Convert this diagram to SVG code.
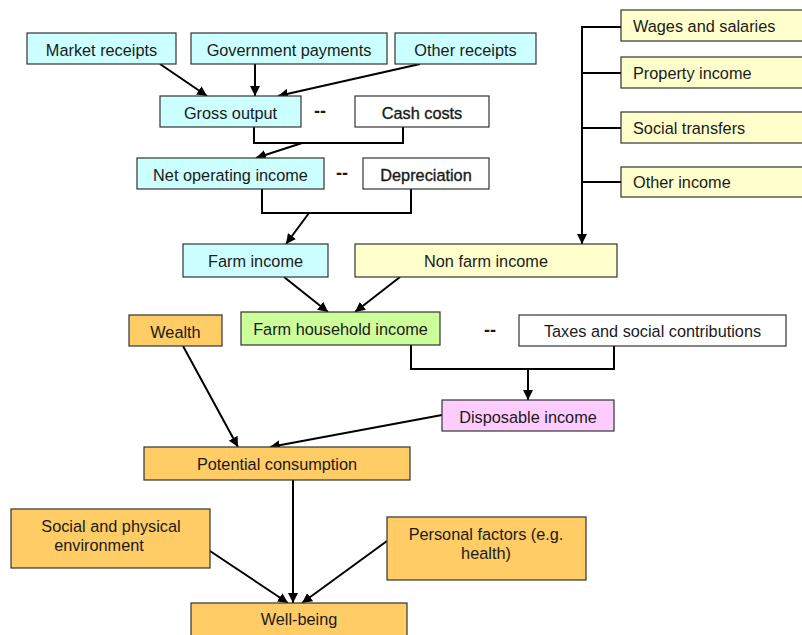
<svg xmlns="http://www.w3.org/2000/svg" width="802" height="635" viewBox="0 0 802 635">
<defs>
<marker id="ah" viewBox="0 0 10 10" refX="10" refY="5" markerWidth="5" markerHeight="5" orient="auto" markerUnits="strokeWidth">
<path d="M0,0 L10,5 L0,10 z" fill="#000"/>
</marker>
</defs>
<style>
rect{stroke:#333;stroke-width:1.2}
.cy{fill:#CCFFFF}.ye{fill:#FFFFCC}.gr{fill:#CCFF99}.or{fill:#FFCC66}.pk{fill:#FFCCFF}.wh{fill:#FFFFFF}
text{font-family:"Liberation Sans",Arial,sans-serif;font-size:16.3px;fill:#1a1a1a;text-anchor:middle}
.l{text-anchor:start}
.b{stroke:#1a1a1a;stroke-width:0.35}
.dash{font-weight:bold;font-size:18px}
.c line,.c polyline{stroke:#000;stroke-width:2;fill:none}
.c .a{marker-end:url(#ah)}
</style>
<g class="c" id="connectors">
<line class="a" x1="160" y1="64" x2="207" y2="96"/>
<line class="a" x1="255" y1="64" x2="255" y2="96"/>
<line class="a" x1="420" y1="64" x2="278" y2="96"/>
<polyline points="254,127 254,143 403,143 403,127"/>
<line class="a" x1="302" y1="143" x2="256" y2="158"/>
<polyline points="262,189 262,213 411,213 411,189"/>
<line class="a" x1="309" y1="213" x2="286" y2="244"/>
<line class="a" x1="284" y1="277" x2="328" y2="312"/>
<line class="a" x1="400" y1="277" x2="355" y2="312"/>
<line x1="582" y1="27" x2="621" y2="27"/>
<line x1="582" y1="73" x2="621" y2="73"/>
<line x1="582" y1="128" x2="621" y2="128"/>
<line x1="582" y1="182" x2="621" y2="182"/>
<line class="a" x1="582" y1="26" x2="582" y2="244"/>
<polyline points="411,345 411,369 614,369 614,346"/>
<line class="a" x1="528" y1="369" x2="528" y2="400"/>
<line class="a" x1="183" y1="346" x2="238" y2="447"/>
<line class="a" x1="442" y1="415" x2="270" y2="447"/>
<line class="a" x1="293" y1="480" x2="293" y2="603"/>
<line class="a" x1="207" y1="549" x2="288" y2="603"/>
<line class="a" x1="387" y1="541" x2="302" y2="603"/>
</g>
<g id="market"><rect class="cy" x="27" y="33" width="149" height="31"/><text x="101.5" y="56">Market receipts</text></g>
<g id="government"><rect class="cy" x="191" y="33" width="196" height="31"/><text x="289" y="56">Government payments</text></g>
<g id="other-receipts"><rect class="cy" x="395" y="33" width="141" height="31"/><text x="465.5" y="56">Other receipts</text></g>
<g id="gross"><rect class="cy" x="160" y="96" width="141" height="31"/><text x="230.5" y="119">Gross output</text></g>
<text class="dash" x="320" y="117">--</text>
<g id="cash"><rect class="wh" x="355" y="96" width="134" height="31"/><text class="b" x="422" y="119">Cash costs</text></g>
<g id="noi"><rect class="cy" x="137" y="158" width="187" height="31"/><text x="230.5" y="181">Net operating income</text></g>
<text class="dash" x="342" y="179">--</text>
<g id="depreciation"><rect class="wh" x="363" y="158" width="126" height="31"/><text class="b" x="426" y="181">Depreciation</text></g>
<g id="wages"><rect class="ye" x="621" y="10" width="190" height="31"/><text class="l" x="633" y="32">Wages and salaries</text></g>
<g id="property"><rect class="ye" x="621" y="57" width="190" height="31"/><text class="l" x="633" y="79">Property income</text></g>
<g id="social-transfers"><rect class="ye" x="621" y="112" width="190" height="31"/><text class="l" x="633" y="134">Social transfers</text></g>
<g id="other-income"><rect class="ye" x="621" y="167" width="190" height="30"/><text class="l" x="633" y="188">Other income</text></g>
<g id="farm-income"><rect class="cy" x="183" y="244" width="145" height="33"/><text x="255.5" y="267">Farm income</text></g>
<g id="nonfarm"><rect class="ye" x="355" y="244" width="262" height="33"/><text x="486" y="267">Non farm income</text></g>
<g id="fhi"><rect class="gr" x="241" y="312" width="199" height="33"/><text x="340.5" y="335">Farm household income</text></g>
<g id="wealth"><rect class="or" x="129" y="315" width="93" height="31"/><text x="175.5" y="338">Wealth</text></g>
<text class="dash" x="490" y="336">--</text>
<g id="taxes"><rect class="wh" x="519" y="315" width="267" height="31"/><text x="652.5" y="337">Taxes and social contributions</text></g>
<g id="disposable"><rect class="pk" x="442" y="400" width="172" height="31"/><text x="528" y="423">Disposable income</text></g>
<g id="potential"><rect class="or" x="144" y="447" width="266" height="33"/><text x="277" y="470">Potential consumption</text></g>
<g id="environment"><rect class="or" x="11" y="509" width="199" height="59"/><text x="111" y="532">Social and physical</text><text x="99" y="551">environment</text></g>
<g id="personal"><rect class="or" x="387" y="517" width="199" height="63"/><text x="486" y="540">Personal factors (e.g.</text><text x="486" y="559">health)</text></g>
<g id="wellbeing"><rect class="or" x="191" y="603" width="216" height="40"/><text x="299" y="625">Well-being</text></g>
</svg>
